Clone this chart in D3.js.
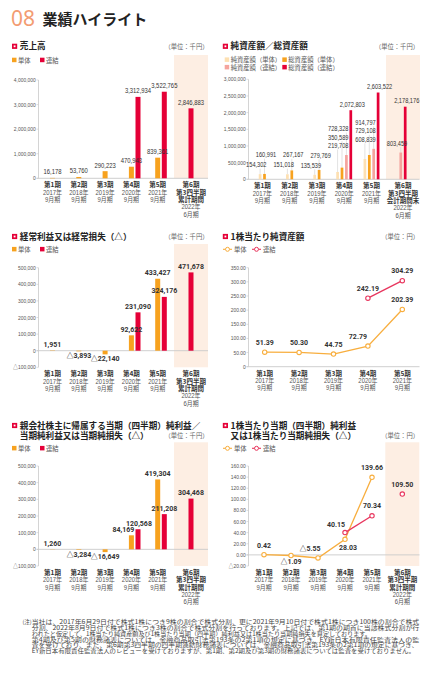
<!DOCTYPE html>
<html><head><meta charset="utf-8">
<script src="https://cdn.jsdelivr.net/npm/d3@7"></script>
<style>body{margin:0;background:#fff}svg{display:block}</style>
</head><body>
<svg id="c" width="446" height="680"></svg>
<script>
// ---------------- DATA ----------------
const periods = ["第1期","第2期","第3期","第4期","第5期","第6期"];
const years = ["2017年","2018年","2019年","2020年","2021年","2022年"];
const months = ["9月期","9月期","9月期","9月期","9月期","6月期"];
const sixthFlow = ["第3四半期","累計期間"];
const sixthStock = ["第3四半期","会計期間末"];

const salesSingle = [16178, 53760, 290223, 470943, 839361, null];
const salesConsol = [null, null, null, 3312934, 3522765, 2846883];

const netAssetsSingle = [154302, 151018, 135539, 219708, 608839, null];
const totalAssetsSingle = [160991, 267167, 279769, 350589, 729108, null];
const netAssetsConsol = [null, null, null, 728328, 914797, 803459];
const totalAssetsConsol = [null, null, null, 2072803, 2603522, 2178176];

const ordinarySingle = [1951, -3893, -22140, 92622, 433427, null];
const ordinaryConsol = [null, null, null, 231090, 324176, 471678];

const bpsSingle = [51.39, 50.30, 44.75, 72.79, 202.39];
const bpsConsol = [null, null, null, 242.19, 304.29];

const netIncomeSingle = [1260, -3284, -16649, 84169, 419304, null];
const netIncomeConsol = [null, null, null, 120568, 211208, 304468];

const epsSingle = [0.42, -1.09, -5.55, 28.03, 139.66, null];
const epsConsol = [null, null, null, 40.15, 70.34, 109.50];

const salesTicks = [0, 1000000, 2000000, 3000000, 4000000];
const assetsTicks = [0, 500000, 1000000, 1500000, 2000000, 2500000, 3000000];
const profitTicks = [-100000, 0, 100000, 200000, 300000, 400000, 500000];
const bpsTicks = [0, 50, 100, 150, 200, 250, 300, 350];
const epsTicks = [-20, 0, 20, 40, 60, 80, 100, 120, 140, 160];

const legendBasic = ["単体","連結"];
const legendAssets = ["純資産額（単体）","総資産額（単体）","純資産額（連結）","総資産額（連結）"];

const notes = [
 "当社は、2017年6月29日付で株式1株につき9株の割合で株式分割、更に2021年9月10日付で株式1株につき100株の割合で株式",
 "分割、2022年8月9日付で株式1株につき3株の割合で株式分割を行っております。上記では、第1期の期首に当該株式分割が行",
 "われたと仮定して、1株当たり純資産額及び1株当たり当期（四半期）純利益又は1株当たり当期純損失を算定しております。",
 "第4期及び第5期の財務諸表については、金融商品取引法第193条の2第1項の規定に基づき、EY新日本有限責任監査法人の監",
 "査を受けており、また、第6期第3四半期の四半期連結財務諸表については、金融商品取引法第193条の2第1項の規定に基づき、",
 "EY新日本有限責任監査法人のレビューを受けておりますが、第1期、第2期及び第3期の財務諸表については監査を受けておりません。"
];

// ---------------- STYLE ----------------
const CJK = "'Noto Sans CJK JP','Noto Sans CJK SC',sans-serif";
const NUM = "'Liberation Sans',Arial,'Noto Sans CJK JP',sans-serif";
const BOLDNUM = "Roboto,'Noto Sans','Noto Sans CJK JP',sans-serif";
const SQ = 0.82; // horizontal squeeze giving a narrow numeral face
const C = {red:"#e50037", orange:"#f7a21f", peach:"#fde0b2", salmon:"#f5a49d",
  shade:"#fdeee3", lOrange:"#f8ae3e", lRed:"#e8365e", grid:"#c9c9c9"};

const fmtInt = v => (v < 0 ? "△" : "") + d3.format(",")(Math.abs(v));
const fmtDec = v => (v < 0 ? "△" : "") + d3.format(",.2f")(Math.abs(v));

const svg = d3.select("#c");

// ---------------- HEADER ----------------
svg.append("text").attr("x",11).attr("y",26).text("08")
  .attr("font-family","'Noto Sans',sans-serif").attr("font-size",21).attr("fill","#f39c72");
svg.append("text").attr("x",42.5).attr("y",24.6).text("業績ハイライト")
  .attr("font-family",CJK).attr("font-weight",700).attr("font-size",15).attr("fill","#222");

// ---------------- HELPERS ----------------
function txt(g, x, y, s, o) {
  const t = g.append("text").text(s)
    .attr("font-family",o.f||CJK).attr("font-size",o.s||6.5).attr("fill",o.c||"#333");
  if (o.sx) t.attr("x",0).attr("y",0).attr("transform",`translate(${x},${y}) scale(${o.sx},1)`);
  else t.attr("x",x).attr("y",y);
  if (o.w) t.attr("font-weight",o.w);
  if (o.a) t.attr("text-anchor",o.a);
  return t;
}
function panelTitle(x, y, lines, unit, unitX, unitY) {
  const g = svg.append("g");
  g.append("rect").attr("x",x).attr("y",y-5.6).attr("width",5.2).attr("height",5.2).attr("fill",C.red);
  g.append("rect").attr("x",x+1.7).attr("y",y-3.9).attr("width",1.8).attr("height",1.8).attr("fill","#fff");
  lines.forEach((l,k)=> txt(g, x+7.8, y+k*10, l, {s:8.6, w:700, c:"#222"}));
  txt(g, unitX, unitY, unit, {s:6.3, c:"#666", a:"end"});
}
function legendBox(x, y, color, label) {
  svg.append("rect").attr("x",x).attr("y",y-4.8).attr("width",4.5).attr("height",4.5).attr("fill",color);
  txt(svg, x+6, y, label, {s:6.3, c:"#555"});
}
function legendLine(x, y, color, label) {
  svg.append("line").attr("x1",x).attr("x2",x+9).attr("y1",y-2.4).attr("y2",y-2.4)
    .attr("stroke",color).attr("stroke-width",1.1);
  svg.append("circle").attr("cx",x+4.5).attr("cy",y-2.4).attr("r",2).attr("fill","#fff")
    .attr("stroke",color).attr("stroke-width",1);
  txt(svg, x+11, y, label, {s:6.3, c:"#555"});
}
function shade(g, c6, top, bottom) {
  g.append("rect").attr("x",c6-17).attr("y",top).attr("width",34).attr("height",bottom-top).attr("fill",C.shade);
}
function yAxis(g, axisX, right, y, ticks, fmt) {
  const [d0, d1] = y.domain();
  g.append("line").attr("x1",axisX).attr("x2",axisX).attr("y1",y(d0)).attr("y2",y(d1))
    .attr("stroke",C.grid).attr("stroke-width",0.8);
  ticks.forEach(t => {
    g.append("line").attr("x1",axisX-2).attr("x2",axisX).attr("y1",y(t)).attr("y2",y(t))
      .attr("stroke",C.grid).attr("stroke-width",0.6);
    txt(g, axisX-2.8, y(t)+2, fmt(t), {f:NUM, s:6, sx:SQ, c:"#555", a:"end"});
  });
  g.append("line").attr("x1",axisX-2).attr("x2",right).attr("y1",y(0)).attr("y2",y(0))
    .attr("stroke",C.grid).attr("stroke-width",0.9);
}
function catLabels(g, x, yb, n, extra) {
  for (let i=0;i<n;i++) {
    const lines = i<5 ? [[periods[i],1],[years[i],0],[months[i],0]]
      : [[periods[i],1],[extra[0],1],[extra[1],1],[years[i],0],[months[i],0]];
    lines.forEach((l,k)=> txt(g, x(i), yb+9+k*7.3, l[0],
      l[1] ? {s:6.5, w:700, c:"#333", a:"middle"} : {f:NUM, s:6.9, sx:0.86, c:"#555", a:"middle"}));
  }
}

// ---------------- PAIR BAR PANEL (single / consolidated) ----------------
function pairPanel(o) {
  const g = svg.append("g");
  const [d0] = o.y.domain();
  shade(g, o.x(5), o.shadeTop, o.y(d0));
  yAxis(g, o.axisX, o.right, o.y, o.ticks, o.tickFmt);
  const series = [{v:o.single, c:C.orange},{v:o.consol, c:C.red}];
  const bw = 5;
  const bx = (k,i) => o.x(i) + ((k===1 && o.single[i]!=null) ? 6.6 : 0);
  series.forEach((s,k)=>{
    g.selectAll(null).data(s.v.map((v,i)=>({v,i})).filter(d=>d.v!=null)).enter()
      .append("rect").attr("x",d=>bx(k,d.i)-bw/2).attr("width",bw)
      .attr("y",d=>Math.min(o.y(d.v),o.y(0))).attr("height",d=>Math.abs(o.y(d.v)-o.y(0)))
      .attr("fill",s.c);
  });
  periods.forEach((p,i)=>{
    const a = o.single[i], b = o.consol[i];
    const ly = v => v>=0 ? o.y(v)-3.5 : o.y(v)+7;
    let dxa = 0, dxb = 0;
    if (a!=null && b!=null && Math.abs(ly(a)-ly(b))<10) { dxa = -8; dxb = 1; }
    const st = {f:o.lf, s:o.ls, w:o.lw, sx:o.lsx, c:"#333", a:"middle"};
    if (a!=null) txt(g, bx(0,i)+dxa, ly(a), fmtInt(a), st);
    if (b!=null) txt(g, bx(1,i)+dxb, ly(b), fmtInt(b), st);
  });
  catLabels(g, o.x, o.y(d0), 6, sixthFlow);
}

// Panel 1: 売上高
panelTitle(12, 49.3, ["売上高"], "（単位：千円）", 208.5, 49);
legendBox(12, 62.5, C.orange, legendBasic[0]);
legendBox(40, 62.5, C.red, legendBasic[1]);
pairPanel({
  x: d3.scaleLinear().domain([0,4,5]).range([52.5,157.7,191]),
  y: d3.scaleLinear().domain([0,4000000]).range([178.3,80]),
  axisX: 38.5, right: 208, shadeTop: 55,
  ticks: salesTicks, tickFmt: fmtInt,
  single: salesSingle, consol: salesConsol,
  lf: NUM, ls: 7.2, lw: 400, lsx: SQ
});

// Panel 3: 経常利益
panelTitle(12, 239.5, ["経常利益又は経常損失（△）"], "（単位：千円）", 208.5, 239);
legendBox(12, 251.7, C.orange, legendBasic[0]);
legendBox(40, 251.7, C.red, legendBasic[1]);
pairPanel({
  x: d3.scaleLinear().domain([0,4,5]).range([52.5,157.7,191]),
  y: d3.scaleLinear().domain([-100000,500000]).range([367.3,267.7]),
  axisX: 38.5, right: 208, shadeTop: 244,
  ticks: profitTicks, tickFmt: fmtInt,
  single: ordinarySingle, consol: ordinaryConsol,
  lf: BOLDNUM, ls: 7, lw: 700
});

// Panel 5: 純利益
panelTitle(12, 428.5, ["親会社株主に帰属する当期（四半期）純利益／","当期純利益又は当期純損失（△）"], "（単位：千円）", 208.5, 437.8);
legendBox(12, 450.7, C.orange, legendBasic[0]);
legendBox(40, 450.7, C.red, legendBasic[1]);
pairPanel({
  x: d3.scaleLinear().domain([0,4,5]).range([52.5,157.7,191]),
  y: d3.scaleLinear().domain([-100000,500000]).range([566,466]),
  axisX: 38.5, right: 208, shadeTop: 442.3,
  ticks: profitTicks, tickFmt: fmtInt,
  single: netIncomeSingle, consol: netIncomeConsol,
  lf: BOLDNUM, ls: 7, lw: 700
});

// ---------------- Panel 2: 純資産額／総資産額 ----------------
(function(){
  panelTitle(222.8, 49.3, ["純資産額／総資産額"], "（単位：千円）", 419, 49);
  const colors = [C.peach, C.orange, C.salmon, C.red];
  legendBox(224.7, 62.2, colors[0], legendAssets[0]);
  legendBox(282.3, 62.2, colors[1], legendAssets[1]);
  legendBox(224.7, 69.7, colors[2], legendAssets[2]);
  legendBox(282.3, 69.7, colors[3], legendAssets[3]);
  const x = d3.scaleLinear().domain([0,4,5]).range([262.3,371.5,403]);
  const y = d3.scaleLinear().domain([0,3000000]).range([179.3,79.3]);
  const g = svg.append("g");
  shade(g, x(5), 55, y(0));
  yAxis(g, 248.5, 419.5, y, assetsTicks, fmtInt);
  const series = [netAssetsSingle, totalAssetsSingle, netAssetsConsol, totalAssetsConsol];
  const bw = 2.7, step = 4.4;
  const lg = g.append("g"), bg = g.append("g"), tg = g.append("g");
  periods.forEach((p,i)=>{
    const items = series.map((s,k)=>({k, v:s[i]})).filter(d=>d.v!=null);
    const n = items.length;
    items.forEach((d,j)=> d.x = x(i) + (j-(n-1)/2)*step);
    items.forEach(d=> bg.append("rect").attr("x",d.x-bw/2).attr("width",bw)
      .attr("y",y(d.v)).attr("height",y(0)-y(d.v)).attr("fill",colors[d.k]));
    const top = items.reduce((a,b)=> b.v>a.v?b:a);
    const rest = items.filter(d=>d!==top).sort((a,b)=>a.v-b.v);
    const base = d3.min(rest, d=>y(d.v)) - 7;
    rest.forEach((d,j)=>{ d.ly = base - j*8.5; d.lx = x(i)-6; });
    const last = rest.length ? rest[rest.length-1].ly : Infinity;
    top.ly = Math.min(y(top.v)-3.5, last-10); top.lx = top.x+1.5;
    items.forEach(d=>{
      if (y(d.v) - (d.ly+1.5) > 3)
        lg.append("line").attr("x1",d.x).attr("x2",d.x).attr("y1",d.ly+1.5).attr("y2",y(d.v))
          .attr("stroke","#cfcfcf").attr("stroke-width",0.6);
      txt(tg, d.lx, d.ly, fmtInt(d.v), {f:NUM, s:6.9, sx:SQ, c:"#333", a:"middle"});
    });
  });
  catLabels(g, x, y(0), 6, sixthStock);
})();

// ---------------- LINE PANELS ----------------
function linePanel(o) {
  const g = svg.append("g");
  const [d0] = o.y.domain();
  if (o.shadeTop!=null) shade(g, o.x(5), o.shadeTop, o.y(d0));
  yAxis(g, o.axisX, o.right, o.y, o.ticks, o.tickFmt);
  const cols = [C.lOrange, C.lRed];
  const line = d3.line().defined(d=>d.v!=null).x(d=>o.x(d.i)).y(d=>o.y(d.v));
  const lab = g.append("g");
  o.series.forEach((s,k)=>{
    const pts = s.map((v,i)=>({v,i}));
    g.append("path").datum(pts.filter(d=>d.i<5)).attr("d",line)
      .attr("fill","none").attr("stroke",cols[k]).attr("stroke-width",1.3);
  });
  o.series.forEach((s,k)=>{
    const pts = s.map((v,i)=>({v,i})).filter(d=>d.v!=null);
    g.selectAll(null).data(pts).enter().append("circle")
      .attr("cx",d=>o.x(d.i)).attr("cy",d=>o.y(d.v)).attr("r",2.2)
      .attr("fill","#fff").attr("stroke",cols[k]).attr("stroke-width",1.1);
    pts.forEach(d=>{
      const p = o.place(k, d.i);
      txt(lab, o.x(d.i)+p.dx, o.y(d.v)+p.dy, o.fmt(d.v), {f:BOLDNUM, s:7, w:700, c:"#333", a:"middle"});
    });
  });
  catLabels(g, o.x, o.y(d0), o.n, sixthFlow);
}

// Panel 4: 1株当たり純資産額
panelTitle(222.8, 239.5, ["1株当たり純資産額"], "（単位：円）", 419, 239);
legendLine(223, 251.7, C.lOrange, legendBasic[0]);
legendLine(252, 251.7, C.lRed, legendBasic[1]);
(function(){
  const x = d3.scaleLinear().domain([0,4]).range([264.7,402.3]);
  const y = d3.scaleLinear().domain([0,350]).range([366.7,267.7]);
  const ser = [bpsSingle, bpsConsol];
  linePanel({
    x, y, axisX: 248.5, right: 419.5, shadeTop: null, n: 5,
    ticks: bpsTicks, tickFmt: v => v===0 ? "0" : fmtDec(v), fmt: fmtDec,
    series: ser,
    place: (k,i)=>{
      const s = ser[k], nx = s[i+1];
      const steep = nx!=null && (y(s[i]) - y(nx)) > 30;
      return {dx: steep ? -10 : 0, dy: -7.5};
    }
  });
})();

// Panel 6: EPS
panelTitle(222.8, 428.5, ["1株当たり当期（四半期）純利益","又は1株当たり当期純損失（△）"], "（単位：円）", 419, 437.8);
legendLine(223, 450.7, C.lOrange, legendBasic[0]);
legendLine(252, 450.7, C.lRed, legendBasic[1]);
(function(){
  const x = d3.scaleLinear().domain([0,4,5]).range([264,372,402.3]);
  const y = d3.scaleLinear().domain([-20,160]).range([566,466]);
  const ser = [epsSingle, epsConsol];
  linePanel({
    x, y, axisX: 248.5, right: 419.5, shadeTop: 442.3, n: 6,
    ticks: epsTicks, tickFmt: fmtDec, fmt: fmtDec,
    series: ser,
    place: (k,i)=>{
      const own = ser[k], other = ser[1-k], v = own[i];
      if (k===0) {
        if (other[i]!=null && v < other[i]) return {dx:3, dy:10.5};
        if (v < 0) {
          const pv = own[i-1], nv = own[i+1];
          if (pv!=null && nv!=null && pv>v && nv>v) return {dx:-8, dy:-6.5};
          return {dx:0, dy:9};
        }
        return {dx:0, dy:-7};
      }
      if (other[i]!=null && other[i] < v) return {dx:-9, dy:-6};
      return {dx:0, dy:-7.5};
    }
  });
})();

// ---------------- FOOTNOTE ----------------
(function(){
  const g = svg.append("g");
  const ends = [419.3, 419.3, 371, 419.3, 418.3, 415];
  txt(g, 22.5, 624, "(注)", {s:5.5, c:"#444"});
  notes.forEach((l,k)=>{
    txt(g, 31.7, 624 + k*5.85, l, {s:5.5, c:"#444"})
      .attr("textLength", ends[k]-31.7).attr("lengthAdjust","spacingAndGlyphs");
  });
})();
</script>
</body></html>
